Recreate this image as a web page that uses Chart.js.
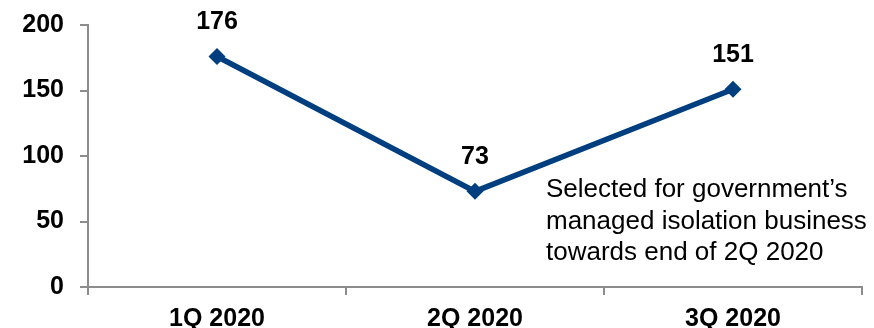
<!DOCTYPE html>
<html>
<head>
<meta charset="utf-8">
<script src="https://cdn.jsdelivr.net/npm/chart.js@4/dist/chart.umd.min.js"></script>
<style>
  html, body { margin: 0; padding: 0; background: #fff; }
  #wrap { width: 874px; height: 328px; }
</style>
</head>
<body>
<div id="wrap"><canvas id="myChart" width="874" height="328"></canvas></div>
<script>
// data
const quarters = ['1Q 2020', '2Q 2020', '3Q 2020'];
const values = [176, 73, 151];
const yTicks = [0, 50, 100, 150, 200];
const note = ['Selected for government\u2019s', 'managed isolation business', 'towards end of 2Q 2020'];

const navy = '#003F7F';
const axisGrey = '#8c8c8c';
const fontFam = '"Liberation Sans", Arial, sans-serif';

// draws the value above each point and the side note
const labelsPlugin = {
    id: 'labelsPlugin',
    afterDatasetsDraw(chart){
        const ctx = chart.ctx;
        const meta = chart.getDatasetMeta(0);
        ctx.save();
        ctx.fillStyle = '#000';
        ctx.font = 'bold 25px ' + fontFam;
        ctx.textAlign = 'center';
        ctx.textBaseline = 'alphabetic';
        meta.data.forEach((pt, i) => {
            ctx.fillText(String(values[i]), pt.x, pt.y - 27);
        });
        ctx.font = '26px ' + fontFam;
        ctx.textAlign = 'left';
        note.forEach((line, i) => {
            ctx.fillText(line, 546, 197 + i * 31.5);
        });
        ctx.restore();
    }
};

const ctx = document.getElementById('myChart');
let myChart = new Chart(ctx, {
    type: 'line',
    data: {
        labels: quarters,
        datasets: [{
            data: values,
            borderColor: navy,
            backgroundColor: navy,
            borderWidth: 5.5,
            pointStyle: 'rectRot',
            pointRadius: 8.5,
            pointHoverRadius: 8.5,
            pointBorderWidth: 0,
            fill: false,
            tension: 0
        }]
    },
    options: {
        responsive: false,
        animation: false,
        events: [],
        layout: { padding: { top: 25, right: 12, left: 0, bottom: 0 } },
        plugins: {
            legend: { display: false },
            tooltip: { enabled: false }
        },
        scales: {
            x: {
                offset: true,
                grid: {
                    offset: true,
                    drawOnChartArea: false,
                    color: axisGrey,
                    lineWidth: 2,
                    tickLength: 8
                },
                border: { color: axisGrey, width: 2 },
                ticks: {
                    color: '#000',
                    font: { family: fontFam, size: 25, weight: 'bold' },
                    padding: 9,
                    maxRotation: 0
                },
                afterFit(scale){
                    scale.height = 41;
                    scale.paddingLeft = 0;
                    scale.paddingRight = 0;
                }
            },
            y: {
                min: 0,
                max: 200,
                afterBuildTicks(scale){ scale.ticks = yTicks.map(v => ({ value: v })); },
                grid: {
                    drawOnChartArea: false,
                    color: axisGrey,
                    lineWidth: 2,
                    tickLength: 8
                },
                border: { color: axisGrey, width: 2 },
                ticks: {
                    color: '#000',
                    font: { family: fontFam, size: 25, weight: 'bold' },
                    padding: 16
                },
                afterFit(scale){
                    scale.width = 88;
                    scale.paddingTop = 0;
                    scale.paddingBottom = 0;
                }
            }
        }
    },
    plugins: [labelsPlugin]
});
</script>
</body>
</html>
